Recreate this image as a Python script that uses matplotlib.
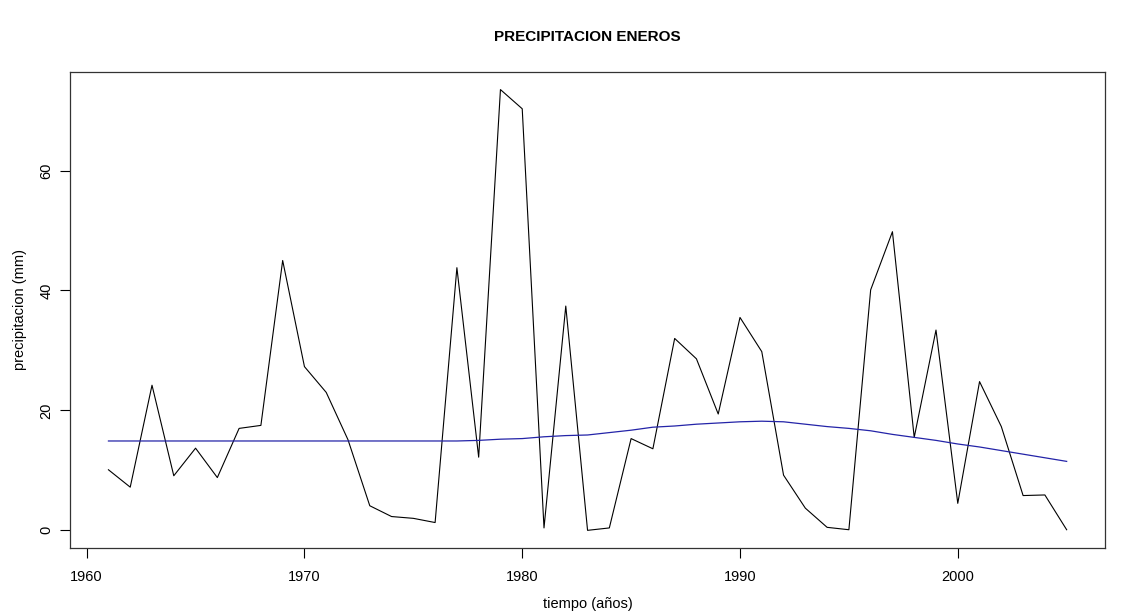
import matplotlib
matplotlib.use('Agg')
import matplotlib.pyplot as plt

plt.rcParams['font.family'] = ['Liberation Sans', 'DejaVu Sans']

# años
years = list(range(1961, 2006))

# precipitacion de enero (mm)
precip = [10.1, 7.2, 24.2, 9.1, 13.7, 8.8, 17.0, 17.5, 45.0, 27.3,
          23.0, 15.1, 4.1, 2.3, 2.0, 1.3, 43.8, 12.2, 73.5, 70.3,
          0.4, 37.4, 0.0, 0.4, 15.3, 13.6, 32.0, 28.6, 19.4, 35.5,
          29.8, 9.2, 3.7, 0.5, 0.1, 40.1, 49.8, 15.5, 33.4, 4.5,
          24.8, 17.3, 5.8, 5.9, 0.1]

# curva suavizada
smooth = [14.9, 14.9, 14.9, 14.9, 14.9, 14.9, 14.9, 14.9, 14.9, 14.9,
          14.9, 14.9, 14.9, 14.9, 14.9, 14.9, 14.9, 15.0, 15.2, 15.3,
          15.6, 15.8, 15.9, 16.3, 16.7, 17.2, 17.4, 17.7, 17.9, 18.1,
          18.2, 18.1, 17.7, 17.3, 17.0, 16.6, 16.0, 15.5, 15.0, 14.4,
          13.9, 13.3, 12.7, 12.1, 11.5]

xticks = [1960, 1970, 1980, 1990, 2000]
yticks = [0, 20, 40, 60]

fig = plt.figure(figsize=(11.31, 6.15), dpi=100)
ax = fig.add_axes([0.062, 0.109, 0.915, 0.774])

ax.plot(years, precip, color='black', lw=0.8)
ax.plot(years, smooth, color='#2424a8', lw=0.9)

# margenes al estilo R (4%)
xr = years[-1] - years[0]
ax.set_xlim(years[0] - 0.04 * xr, years[-1] + 0.04 * xr)
yr = max(precip) - min(precip)
ax.set_ylim(min(precip) - 0.04 * yr, max(precip) + 0.04 * yr)

ax.set_xticks(xticks)
ax.set_yticks(yticks)
ax.set_yticklabels([str(v) for v in yticks], rotation=90, va='center')
ax.tick_params(direction='out', length=7, width=0.8, labelsize=10.5)
ax.tick_params(axis='x', pad=9)
ax.tick_params(axis='y', pad=5)

for s in ax.spines.values():
    s.set_linewidth(0.9)
    s.set_color('#333333')

ax.set_title('PRECIPITACION ENEROS', fontsize=11, fontweight='bold', pad=22)
ax.set_xlabel('tiempo (años)', fontsize=10.5, labelpad=9)
ax.set_ylabel('precipitacion (mm)', fontsize=10.5, labelpad=9)

fig.savefig('out.png', dpi=100)
